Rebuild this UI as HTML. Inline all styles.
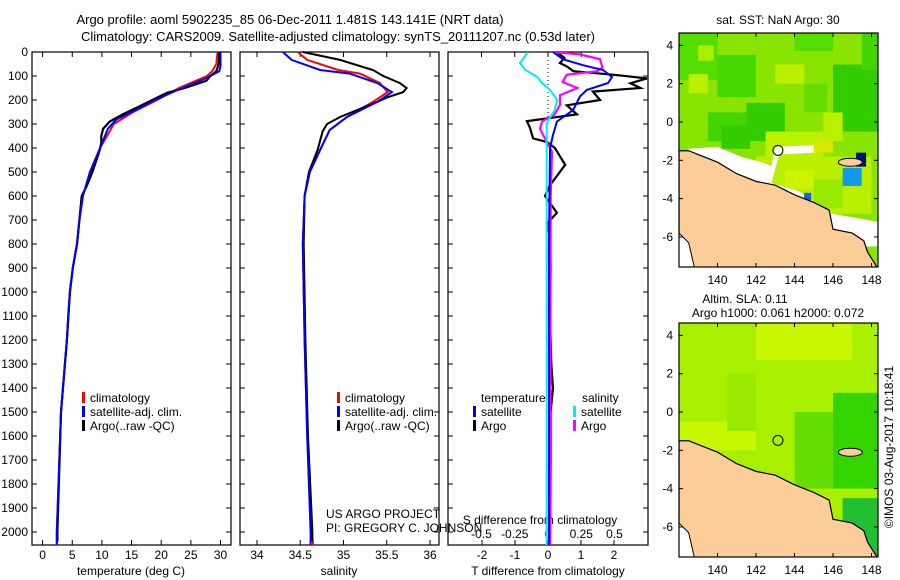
<!DOCTYPE html>
<html><head><meta charset="utf-8"><style>
html,body{margin:0;padding:0;background:#fff;}
svg{display:block;font-family:"Liberation Sans",sans-serif;}
text{font-size:12px;fill:#000;}
</style></head><body>
<svg id="fig" width="900" height="580" viewBox="0 0 900 580" xmlns="http://www.w3.org/2000/svg">
<text x="290" y="24" text-anchor="middle" style="font-size:13px">Argo profile: aoml 5902235_85 06-Dec-2011 1.481S 143.141E (NRT data)</text>
<text x="338" y="41" text-anchor="middle" style="font-size:13px">Climatology: CARS2009. Satellite-adjusted climatology: synTS_20111207.nc (0.53d later)</text>
<g id="g"></g>
</svg>
<script>
// ---- data ----
const depthTicks=[0,100,200,300,400,500,600,700,800,900,1000,1100,1200,1300,1400,1500,1600,1700,1800,1900,2000];
const tTicks=[0,5,10,15,20,25,30];
const sTicks=[34,34.5,35,35.5,36];
const dtTicks=[-2,-1,0,1,2];
const dsTicks=[-0.5,-0.25,0,0.25,0.5];
const tClimDepth=[0,50,80,100,150,200,250,300,400,500,600,700,800,900,1000,1100,1200,1500,2000,2055];
const tClim=[29.5,29.3,28.6,27.7,23,19.3,15.3,12,9.7,8.0,6.8,6.2,5.8,5.1,4.6,4.3,4.1,3.1,2.4,2.4];
const tSatDepth=[0,60,80,110,150,200,250,280,320,400,500,600,700,800,900,1000,1200,1500,2000,2055];
const tSat=[30,30,29.8,27.5,23.5,19,15,12.5,11,9.7,8.0,6.8,6.2,5.8,5.1,4.6,4.1,3.1,2.4,2.4];
const tArgoDepth=[0,50,80,100,120,150,170,200,230,260,290,320,350,380,420,500,560,600,700,800,900,1000,1200,1500,2000,2040];
const tArgo=[29.8,29.7,29.3,28.3,27.6,24,21,18.5,16,13.5,11.3,10.2,9.9,9.9,9.5,8.4,7.4,6.6,6.2,5.8,5.1,4.6,4.1,3.1,2.5,2.5];
const sClimDepth=[0,33,75,90,129,167,208,271,325,408,500,600,800,1200,1600,2000,2055];
const sClim=[34.47,34.58,34.94,35.19,35.42,35.51,35.34,35.04,34.84,34.73,34.61,34.55,34.53,34.55,34.58,34.63,34.65];
const sSatDepth=[0,33,75,90,129,167,208,271,325,408,500,600,800,1200,1600,2000,2055];
const sSat=[34.3,34.4,34.73,35.07,35.39,35.56,35.39,35.04,34.84,34.73,34.61,34.55,34.53,34.55,34.58,34.62,34.62];
const sArgoDepth=[0,33,75,100,129,150,167,190,208,271,300,330,408,500,600,800,1200,1600,2000,2040];
const sArgo=[34.53,34.96,35.34,35.46,35.65,35.73,35.69,35.5,35.39,34.96,34.81,34.76,34.7,34.6,34.55,34.54,34.56,34.59,34.64,34.64];
const dTSatDepth=[0,30,55,75,104,129,158,185,242,290,346,400,800,1500,2055];
const dTSat=[0.15,0.45,1.06,1.67,1.94,1.82,1.18,0.97,0.76,0.27,0.15,0.06,0.03,0.03,0.03];
const dTArgoDepth=[0,25,46,60,80,95,110,130,150,165,200,222,260,288,315,360,375,400,470,555,600,670,715,770,900,1100,1300,1400,1500,1700,2040];
const dTArgo=[0.27,0.5,0.36,0.57,0.77,2.0,3.0,2.5,2.8,1.36,1.58,0.57,0.88,-0.64,-0.55,-0.45,-0.03,0.21,0.52,0.06,-0.09,0.27,-0.03,0.06,0.08,0.06,0.1,0.15,0.08,0.08,0.06];
const dSSatDepth=[0,46,75,104,129,158,200,242,296,400,2055];
const dSSat=[-0.15,-0.21,-0.17,-0.08,-0.045,0.015,0.07,0.05,-0.01,-0.01,-0.01];
const dSArgoDepth=[0,10,30,65,80,95,125,150,180,220,260,290,320,375,415,600,2055];
const dSArgo=[0.05,0.24,0.39,0.41,0.37,0.14,0.11,0.22,0.09,0.09,0.05,-0.045,-0.06,-0.01,0.03,0.02,0.015];
const lonTicks=[140,142,144,146,148];
const latTicks=[4,2,0,-2,-4,-6];

const NS="http://www.w3.org/2000/svg";
const G=document.getElementById('g');
function el(tag,attrs,parent,txt){const e=document.createElementNS(NS,tag);for(const k in attrs)e.setAttribute(k,attrs[k]);if(txt!==undefined)e.textContent=txt;(parent||G).appendChild(e);return e;}
const Y0=52,PX=0.24;
const yD=d=>Y0+d*PX;
const xT=t=>42.6+t*5.93;
const xS=s=>257+(s-34)*86.5;
const xDT=v=>548+v*33;
const xDS=v=>548+v*133;
function frame(x0,x1,name){
  const r=el('rect',{x:x0,y:Y0,width:x1-x0,height:545-Y0,fill:'none',stroke:'#000','stroke-width':1.2});
  
  depthTicks.forEach(d=>{el('line',{x1:x0,x2:x0+5,y1:yD(d),y2:yD(d),stroke:'#000'});el('line',{x1:x1-5,x2:x1,y1:yD(d),y2:yD(d),stroke:'#000'});});
}
frame(32,231,'temperature-panel');frame(240,439,'salinity-panel');frame(448,648,'difference-panel');
depthTicks.forEach(d=>{const t=el('text',{x:28,y:yD(d)+4,'text-anchor':'end'},G,d);});
function xticks(arr,fx,lab,tick){arr.forEach(v=>{el('line',{x1:fx(v),x2:fx(v),y1:540,y2:545,stroke:'#000'});if(tick)el('line',{x1:fx(v),x2:fx(v),y1:Y0,y2:Y0+5,stroke:'#000'});const t=el('text',{x:fx(v),y:559,'text-anchor':'middle'},G,v);});}
xticks(tTicks,xT,'temperature-tick-label',true);
xticks(sTicks,xS,'salinity-tick-label',true);
xticks(dtTicks,xDT,'t-diff-tick-label',false);
dsTicks.forEach(v=>{el('line',{x1:xDS(v),x2:xDS(v),y1:Y0,y2:Y0+5,stroke:'#000'});const t=el('text',{x:xDS(v),y:538,'text-anchor':'middle'},G,v);});
[['temperature (deg C)',131,'temperature-axis-title'],['salinity',339,'salinity-axis-title'],['T difference from climatology',548,'t-diff-axis-title']].forEach(a=>{const t=el('text',{x:a[1],y:575,'text-anchor':'middle'},G,a[0]);});
{const t=el('text',{x:540,y:524,'text-anchor':'middle'},G,'S difference from climatology');}
el('line',{x1:548,x2:548,y1:Y0,y2:120,stroke:'#000','stroke-dasharray':'1,3'});
function line(xs,ds,fx,col,w,name,clip){const p=ds.map((d,i)=>fx(xs[i]).toFixed(1)+','+yD(d).toFixed(1)).join(' ');const l=el('polyline',{points:p,fill:'none',stroke:col,'stroke-width':w,'clip-path':clip||''});}
const cp=el('clipPath',{id:'c3'});el('rect',{x:448,y:Y0,width:200,height:493},cp);
line(tClim,tClimDepth,xT,'#f00',2,'temp-climatology-line');
line(tArgo,tArgoDepth,xT,'#000',2.2,'temp-argo-line');
line(tSat,tSatDepth,xT,'#00f',2,'temp-satellite-line');
line(sClim,sClimDepth,xS,'#f00',2,'sal-climatology-line');
line(sArgo,sArgoDepth,xS,'#000',2,'sal-argo-line');
line(sSat,sSatDepth,xS,'#00f',2,'sal-satellite-line');
line(dTArgo,dTArgoDepth,xDT,'#000',2.2,'tdiff-argo-line','url(#c3)');
line(dSArgo,dSArgoDepth,xDS,'#f0f',2.2,'sdiff-argo-line','url(#c3)');
line(dTSat,dTSatDepth,xDT,'#00f',2,'tdiff-satellite-line','url(#c3)');
line(dSSat,dSSatDepth,xDS,'#0ee',2,'sdiff-satellite-line','url(#c3)');
function leg(x,y,col,txt){el('rect',{x:x,y:y-10,width:3,height:11,fill:col});const t=el('text',{x:x+8,y:y},G,txt);}
[[82],[337]].forEach(a=>{leg(a[0],402,'#f00','climatology');leg(a[0],416,'#00f','satellite-adj. clim.');leg(a[0],430,'#000','Argo(..raw -QC)');});
{const t=el('text',{x:481,y:402},G,'temperature');
const u=el('text',{x:582,y:402},G,'salinity');}
leg(473,416,'#00f','satellite');leg(473,430,'#000','Argo');leg(573,416,'#0ee','satellite');leg(573,430,'#f0f','Argo');
{const t=el('text',{x:326,y:518},G,'US ARGO PROJECT');
const u=el('text',{x:326,y:532},G,'PI: GREGORY C. JOHNSON');}

// maps
function map(top,name,isSST){
  const x0=679,x1=878,y1=top+234;
  const lx=l=>x0+(l-138)*19.25, ly=l=>top+89-l*19.15;
  const g=el('g',{});
  const cid='cm'+top;const c=el('clipPath',{id:cid},g);el('rect',{x:x0,y:top,width:x1-x0,height:234},c);
  const gg=el('g',{'clip-path':'url(#'+cid+')'},g);
  el('rect',{x:x0,y:top,width:x1-x0,height:234,fill:isSST?'#88e400':'#a8f000'},gg);
  const blobs=isSST?[
   [138,4.7,2,2.5,'#55dd00'],[140,3.5,2,2.2,'#44d800'],[141.5,1,2,2,'#33cc00'],[139.5,0.5,2,1.5,'#44d400'],[146,3,2.4,3.5,'#33cc00'],[143,3,1.5,1,'#bbf000'],[142.5,-0.5,3,1.5,'#bbf200'],[144,4.7,2,1,'#55dd00'],[142,-1.8,6,3,'#b8f000'],[145,-1,1,0.6,'#dde800'],
   [138.5,2.5,1,1,'#bbf000'],[144.5,2,1.2,1.5,'#66dd00'],[140.2,-0.2,1.5,1.2,'#33cc00'],[145.5,0.5,1,1.5,'#bbf000'],[143.5,-2.5,1.5,1,'#ccf400'],[145,-3,1.5,1.5,'#99ea00'],[139,4,0.8,0.8,'#aaee00'],[147.5,4.7,1,2,'#44d400']
  ]:[
   [142,4.7,5,2,'#c8f800'],[146,1,2.4,5,'#33d400'],[144,0,2,4,'#66dd00'],[138,-0.5,4,1.5,'#c8f800'],[140.5,2,1.5,3,'#99ea00'],[146.5,-4.5,2,3,'#22c030']
  ];
  blobs.forEach(b=>el('rect',{x:lx(b[0]),y:ly(b[1]),width:b[2]*19.25,height:b[3]*19.15,fill:b[4]},gg));
  if(isSST){
    const wp=[[138.5,-1.4],[140,-1.3],[140.5,-1.5],[141.2,-1.8],[142.3,-2.1],[142.8,-2.3],[143,-1.3],[145,-1.2],[145,-1.6],[143.2,-1.7],[142.8,-3.2],[144.2,-3.6],[145.2,-4.3],[146,-4.8],[148.3,-5.2],[148.3,-6.5],[146,-6.5],[144,-5],[138.5,-3]];
    el('polygon',{points:wp.map(p=>lx(p[0])+','+ly(p[1])).join(' '),fill:'#fff'},gg);
    el('rect',{x:lx(146.5),y:ly(-2.4),width:19,height:18,fill:'#1199ee'},gg);
    el('rect',{x:lx(147.2),y:ly(-1.6),width:10,height:14,fill:'#001177'},gg);
    el('rect',{x:lx(144.5),y:ly(-3.7),width:7,height:8,fill:'#1166dd'},gg);
  }
  const land=[[138,-1.5],[138.5,-1.5],[139,-1.7],[140,-2.1],[141,-2.7],[142,-3.1],[143,-3.3],[144,-3.8],[145,-4.2],[145.8,-4.6],[146,-5.6],[147,-5.8],[147.6,-6.2],[147.8,-6.8],[148.3,-7.6],[138,-7.6]];
  el('polygon',{points:land.map(p=>lx(p[0])+','+ly(p[1])).join(' '),fill:'#fccc99',stroke:'#000','stroke-width':1.2},gg);
  el('polygon',{points:[[138,-5.8],[138.5,-6.3],[138.8,-7.6],[138,-7.6]].map(p=>lx(p[0])+','+ly(p[1])).join(' '),fill:'#fff',stroke:'#000'},gg);
  el('ellipse',{cx:lx(146.9),cy:ly(-2.1),rx:12,ry:4,fill:'#fccc99',stroke:'#000'},gg);
  const m=el('circle',{cx:lx(143.14),cy:ly(-1.48),r:5,fill:'none',stroke:'#000'},g);
  
  el('rect',{x:x0,y:top,width:x1-x0,height:234,fill:'none',stroke:'#000','stroke-width':1.2},g);
  lonTicks.forEach(v=>{el('line',{x1:lx(v),x2:lx(v),y1:top,y2:top+4,stroke:'#000'},g);el('line',{x1:lx(v),x2:lx(v),y1:y1-4,y2:y1,stroke:'#000'},g);const t=el('text',{x:lx(v),y:y1+17,'text-anchor':'middle'},g,v);});
  latTicks.forEach(v=>{el('line',{x1:x0,x2:x0+4,y1:ly(v),y2:ly(v),stroke:'#000'},g);el('line',{x1:x1-4,x2:x1,y1:ly(v),y2:ly(v),stroke:'#000'},g);const t=el('text',{x:673,y:ly(v)+4,'text-anchor':'end'},g,v);});
}
map(33,'sst-map',true);
map(323,'sla-map',false);
{const t=el('text',{x:778,y:24,'text-anchor':'middle'},G,'sat. SST: NaN Argo: 30');
const a=el('text',{x:745,y:303,'text-anchor':'middle'},G,'Altim. SLA: 0.11');
const b=el('text',{x:778,y:317,'text-anchor':'middle'},G,'Argo h1000: 0.061 h2000: 0.072');
const c=el('text',{x:0,y:0,'text-anchor':'middle',transform:'translate(893,447) rotate(-90)'},G,'©IMOS 03-Aug-2017 10:18:41');}
</script>
</body></html>
